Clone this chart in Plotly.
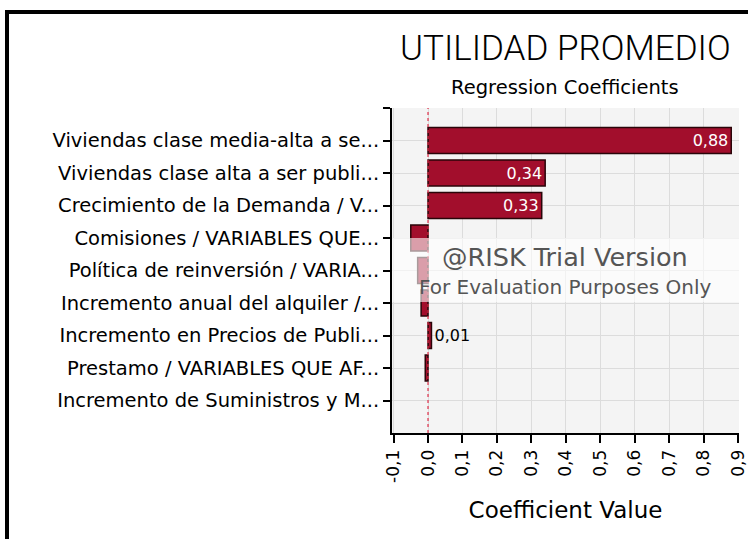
import plotly.graph_objects as go

# Regression coefficients for UTILIDAD PROMEDIO
categories = [
    "Viviendas clase media-alta a se...",
    "Viviendas clase alta a ser publi...",
    "Crecimiento de la Demanda / V...",
    "Comisiones / VARIABLES QUE...",
    "Política de reinversión / VARIA...",
    "Incremento anual del alquiler /...",
    "Incremento en Precios de Publi...",
    "Prestamo / VARIABLES QUE AF...",
    "Incremento de Suministros y M...",
]
coefficients = [0.88, 0.34, 0.33, -0.05, -0.03, -0.02, 0.01, -0.008, 0.0]
labeled = [True, True, True, False, False, False, True, False, False]

x_ticks = [-0.1, 0.0, 0.1, 0.2, 0.3, 0.4, 0.5, 0.6, 0.7, 0.8, 0.9]
x_tick_text = ["-0,1", "0,0", "0,1", "0,2", "0,3", "0,4", "0,5", "0,6", "0,7", "0,8", "0,9"]

W, H = 748, 539
ML, MR, MT, MB = 392, 9, 108, 106
PW, PH = W - ML - MR, H - MT - MB


def px_x(p):
    return (p - ML) / PW


def px_y(p):
    return 1 - (p - MT) / PH


def fmt(v):
    return f"{v:.2f}".replace(".", ",")


texts = [fmt(v) if show else "" for v, show in zip(coefficients, labeled)]
positions = ["inside" if (show and v > 0.1) else ("outside" if show else "none")
             for v, show in zip(coefficients, labeled)]
outline_widths = [1.5 if v != 0 else 0 for v in coefficients]

y_idx = list(range(len(categories)))

fig = go.Figure()
fig.add_trace(go.Bar(
    x=coefficients,
    y=y_idx,
    orientation="h",
    width=0.8,
    marker=dict(color="#a20e2c", line=dict(color="#2a0509", width=outline_widths)),
    text=texts,
    textposition=positions,
    insidetextanchor="end",
    insidetextfont=dict(color="white", size=16, family="DejaVu Sans"),
    outsidetextfont=dict(color="black", size=16, family="DejaVu Sans"),
    cliponaxis=False,
    hoverinfo="skip",
))

fig.update_layout(
    width=W, height=H,
    margin=dict(l=ML, r=MR, t=MT, b=MB, autoexpand=False),
    paper_bgcolor="white",
    plot_bgcolor="#f4f4f4",
    showlegend=False,
    font=dict(family="DejaVu Sans", color="black"),
    xaxis=dict(
        range=[-0.1045, 0.9025],
        tickvals=x_ticks, ticktext=x_tick_text,
        tickangle=-90,
        tickfont=dict(size=17, family="DejaVu Sans"),
        ticks="outside", ticklen=8, tickcolor="black", tickwidth=1.5,
        showline=True, linecolor="black", linewidth=2,
        showgrid=True, gridcolor="#dcdcdc", gridwidth=1,
        zeroline=False,
        automargin=False,
        title=dict(text="Coefficient Value", font=dict(size=23, family="DejaVu Sans"), standoff=20),
    ),
    yaxis=dict(
        range=[9, -1],
        tickvals=[-1] + y_idx, ticktext=[""] + categories,
        tickfont=dict(size=19.5, family="DejaVu Sans"),
        ticks="outside", ticklen=7, tickcolor="black", tickwidth=1.5,
        showline=True, linecolor="black", linewidth=2,
        showgrid=True, gridcolor="#dcdcdc", gridwidth=1,
        zeroline=False,
        automargin=False,
    ),
    bargap=0.2,
)

# dotted reference line at zero
fig.add_shape(type="line", xref="x", yref="paper", x0=0, x1=0, y0=0, y1=1,
              line=dict(color="#e0304a", width=1.2, dash="dot"), layer="above")

# translucent watermark band
fig.add_shape(type="rect", xref="paper", yref="paper",
              x0=0, x1=1, y0=px_y(302), y1=px_y(238),
              fillcolor="rgba(255,255,255,0.6)", line=dict(width=0), layer="above")
fig.add_annotation(xref="paper", yref="paper", x=px_x(565), y=px_y(257),
                   xanchor="center", yanchor="middle",
                   text="@RISK Trial Version", showarrow=False,
                   font=dict(size=25.5, color="#555555", family="DejaVu Sans"))
fig.add_annotation(xref="paper", yref="paper", x=px_x(565), y=px_y(287),
                   xanchor="center", yanchor="middle",
                   text="For Evaluation Purposes Only", showarrow=False,
                   font=dict(size=20, color="#555555", family="DejaVu Sans"))

# titles
fig.add_annotation(xref="paper", yref="paper", x=px_x(565), y=px_y(48),
                   xanchor="center", yanchor="middle",
                   text="UTILIDAD PROMEDIO", showarrow=False,
                   font=dict(size=35, color="black", family="Roboto", weight=300))
fig.add_annotation(xref="paper", yref="paper", x=px_x(565), y=px_y(87),
                   xanchor="center", yanchor="middle",
                   text="Regression Coefficients", showarrow=False,
                   font=dict(size=19.5, color="black", family="DejaVu Sans"))

# outer frame
fig.add_shape(type="rect", xref="paper", yref="paper",
              x0=px_x(7), x1=px_x(770), y0=px_y(560), y1=px_y(12),
              line=dict(color="black", width=4), fillcolor="rgba(0,0,0,0)", layer="above")

fig.write_html("out.html")
